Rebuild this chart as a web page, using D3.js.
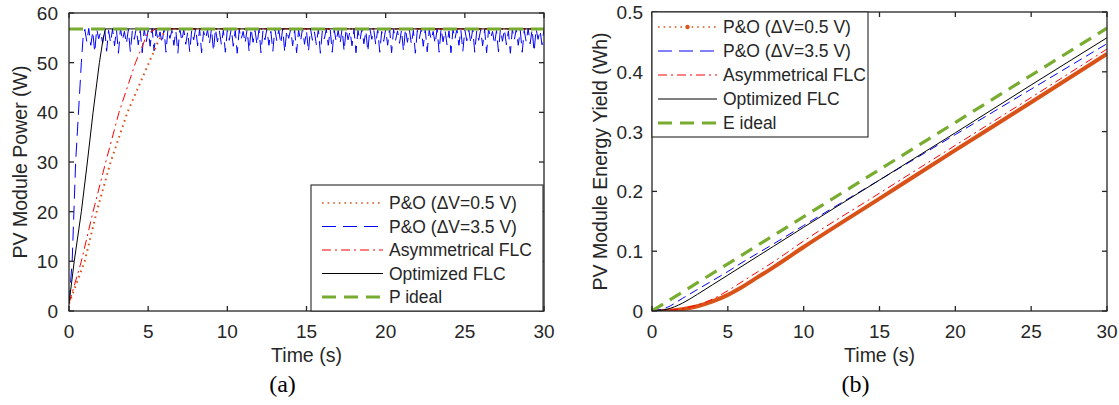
<!DOCTYPE html>
<html>
<head>
<meta charset="utf-8">
<script src="https://cdn.jsdelivr.net/npm/d3@7"></script>
<style>
  body { margin: 0; background: #fff; }
  text { font-family: Arial, "Liberation Sans", sans-serif; fill: #262626; }
</style>
</head>
<body>
<div id="chart"></div>
<script>
"use strict";

// ---- data ----
var xTicks = [0, 5, 10, 15, 20, 25, 30];
var powerTicks = [0, 10, 20, 30, 40, 50, 60];
var energyTicks = [0, 0.1, 0.2, 0.3, 0.4, 0.5];

var legendA = ["P&O (\u0394V=0.5 V)", "P&O (\u0394V=3.5 V)", "Asymmetrical FLC", "Optimized FLC", "P ideal"];
var legendB = ["P&O (\u0394V=0.5 V)", "P&O (\u0394V=3.5 V)", "Asymmetrical FLC", "Optimized FLC", "E ideal"];

// (a) power, W
var poSmallT = [0, 0.99, 1.75, 2.63, 3.69, 5.05, 5.68, 6.2, 30];
var poSmallP = [1.5, 10, 20, 30, 40, 50, 54.6, 56.8, 56.8];
var asymT = [0, 0.78, 1.52, 2.32, 3.16, 4.2, 4.96, 5.5, 30];
var asymP = [1.5, 10, 20, 30, 40, 50, 55.9, 56.8, 56.8];
var optT = [0, 0.33, 0.78, 1.16, 1.52, 1.92, 2.15, 2.3, 30];
var optP = [1.5, 10, 20, 30, 40, 50, 54.7, 56.8, 56.8];
var idealT = [0, 30];
var idealP = [56.8, 56.8];
// P&O 3.5 V: start-up, then the steady oscillation sampled every 0.125 s from t = 1
var poBigRampT = [0, 0.2, 0.42, 0.78, 0.9];
var poBigRampP = [1.5, 10, 30, 50, 55.5];
var poBigStart = 1.0, poBigStep = 0.125;
var poBigOsc = [
  56.7,54.2,56.9,53.5,56.3,52.1, 56.8,54.8,56.2,53.9,57.0,52.3,
  56.5,54.0,56.8,53.4,56.6,51.9, 56.9,54.5,56.3,53.8,56.7,52.2,
  56.4,54.7,57.0,53.6,56.5,52.0, 56.8,54.1,56.6,53.3,56.9,52.4,
  56.6,54.4,56.2,53.9,56.8,52.1, 56.7,54.9,56.5,53.5,56.4,51.9,
  56.9,54.3,56.7,53.7,56.2,52.2, 56.5,54.6,56.9,53.4,56.8,52.0,
  56.3,54.8,56.6,53.8,56.9,52.3, 56.8,54.2,56.4,53.6,56.6,52.1,
  56.7,54.5,56.9,53.3,56.5,51.9, 56.6,54.7,56.3,53.9,56.8,52.2,
  56.9,54.1,56.5,53.6,56.7,52.0, 56.4,54.6,56.8,53.5,56.3,52.3,
  56.8,54.4,56.6,53.8,56.9,52.1, 56.5,54.9,56.7,53.4,56.6,52.0,
  56.6,54.3,56.9,53.7,56.4,52.2, 56.9,54.5,56.2,53.6,56.8,51.9,
  56.4,54.8,56.7,53.5,56.6,52.1, 56.7,54.2,56.5,53.9,56.9,52.3,
  56.8,54.6,56.3,53.4,56.7,52.0, 56.5,54.4,56.9,53.8,56.4,52.2,
  56.9,54.7,56.6,53.6,56.8,52.1, 56.3,54.3,56.7,53.5,56.9,52.0,
  56.7,54.5,56.4,53.9,56.6,52.3, 56.8,54.1,56.6,53.7,56.5,51.9,
  56.5,54.8,56.9,53.3,56.7,52.2, 56.6,54.6,56.3,53.8,56.8,52.1,
  56.9,54.2,56.5,53.6,56.4,52.0, 56.7,54.7,56.8,53.5,56.6,52.3,
  56.6,54.4,56.7,53.9,56.9,52.1, 56.4,54.5,56.6,53.4,56.7,52.0,
  56.8,54.9,56.3,53.7,56.5,52.2, 56.9,54.3,56.7,53.6,56.4,51.9,
  56.7,54.6,56.8,53.5,56.6,52.1, 56.5,54.2,56.9,53.8,56.7,52.2,
  56.8,54.7,56.5,53.6,56.9
];

// (b) energy, Wh
var eT = [0, 1, 2, 3, 4, 5, 6, 7, 8, 10, 15, 20, 25, 30];
var ePoSmall = [0, 0.0005, 0.003, 0.008, 0.016, 0.027, 0.041, 0.057, 0.073, 0.107, 0.188, 0.269, 0.349, 0.430];
var eAsym = [0, 0.001, 0.004, 0.010, 0.020, 0.034, 0.050, 0.066, 0.082, 0.117, 0.197, 0.277, 0.357, 0.438];
var eOpt = [0, 0.003, 0.013, 0.028, 0.044, 0.060, 0.076, 0.092, 0.108, 0.140, 0.219, 0.298, 0.378, 0.457];
var ePoBig = [0, 0.006, 0.021, 0.036, 0.051, 0.066, 0.082, 0.097, 0.112, 0.143, 0.219, 0.295, 0.371, 0.447];
var eIdealT = [0, 30];
var eIdeal = [0, 0.473];

// ---- styles ----
var styles = [
  { color: "#D95319", width: 2, dash: "1.6,4" },
  { color: "#0000FF", width: 1, dash: "14,7" },
  { color: "#FF0000", width: 1, dash: "9,4,2,4" },
  { color: "#000000", width: 1, dash: null },
  { color: "#77AC30", width: 3, dash: "14,8" }
];

var W = 1119, H = 405;
var svg = d3.select("#chart").append("svg")
  .attr("width", W).attr("height", H)
  .style("display", "block");
svg.append("rect").attr("width", W).attr("height", H).attr("fill", "#fff");

function zip(t, v) { return t.map(function(d, i) { return [d, v[i]]; }); }

function makeAxes(box, yDomain, yTicks, yFmt, yTitle, titleX, label) {
  var x = d3.scaleLinear().domain([0, 30]).range([box.left, box.right]);
  var y = d3.scaleLinear().domain(yDomain).range([box.bottom, box.top]);
  var g = svg.append("g");

  // tick labels
  g.selectAll(".xl").data(xTicks).enter().append("text")
    .attr("x", function(d) { return x(d); }).attr("y", box.bottom + 27)
    .attr("text-anchor", "middle").style("font-size", "19px")
    .text(function(d) { return d; });
  g.selectAll(".yl").data(yTicks).enter().append("text")
    .attr("x", box.left - box.labGap).attr("y", function(d) { return y(d) + 7; })
    .attr("text-anchor", "end").style("font-size", "19px")
    .text(yFmt);

  g.append("text").attr("x", (box.left + box.right) / 2).attr("y", box.bottom + 51)
    .attr("text-anchor", "middle").style("font-size", "19.5px").text("Time (s)");
  g.append("text")
    .attr("transform", "translate(" + titleX + "," + ((box.top + box.bottom) / 2) + ") rotate(-90)")
    .attr("text-anchor", "middle").style("font-size", "19.5px").text(yTitle);
  g.append("text").attr("x", (box.left + box.right) / 2 - 24).attr("y", 392)
    .attr("text-anchor", "middle")
    .style("font-family", "'Times New Roman', 'Liberation Serif', serif")
    .style("font-size", "24px").style("fill", "#000").text(label);

  var clipId = "clip" + label.replace(/\W/g, "");
  svg.append("clipPath").attr("id", clipId).append("rect")
    .attr("x", box.left).attr("y", box.top)
    .attr("width", box.right - box.left).attr("height", box.bottom - box.top);
  var plot = svg.append("g").attr("clip-path", "url(#" + clipId + ")");
  return { x: x, y: y, plot: plot, box: box };
}

function drawFrame(ax, yTicks) {
  var b = ax.box, g = svg.append("g").attr("stroke", "#262626").attr("stroke-width", 1.3);
  g.append("rect").attr("x", b.left).attr("y", b.top)
    .attr("width", b.right - b.left).attr("height", b.bottom - b.top).attr("fill", "none");
  xTicks.forEach(function(t) {
    g.append("line").attr("x1", ax.x(t)).attr("x2", ax.x(t)).attr("y1", b.bottom).attr("y2", b.bottom - 5);
    g.append("line").attr("x1", ax.x(t)).attr("x2", ax.x(t)).attr("y1", b.top).attr("y2", b.top + 5);
  });
  yTicks.forEach(function(t) {
    g.append("line").attr("x1", b.left).attr("x2", b.left + 5).attr("y1", ax.y(t)).attr("y2", ax.y(t));
    g.append("line").attr("x1", b.right).attr("x2", b.right - 5).attr("y1", ax.y(t)).attr("y2", ax.y(t));
  });
}

function drawLine(ax, pts, st, widthOverride, dashOverride, curve) {
  var line = d3.line().x(function(d) { return ax.x(d[0]); }).y(function(d) { return ax.y(d[1]); })
    .curve(curve || d3.curveLinear);
  var dash = dashOverride !== undefined ? dashOverride : st.dash;
  ax.plot.append("path").attr("d", line(pts)).attr("fill", "none")
    .attr("stroke", st.color).attr("stroke-width", widthOverride || st.width)
    .attr("stroke-dasharray", dash)
    .attr("stroke-linejoin", "round");
}

function drawLegend(lb, names, sx0, sx1, tx, y0, dy, markerFirst) {
  var g = svg.append("g");
  g.append("rect").attr("x", lb.x).attr("y", lb.y).attr("width", lb.w).attr("height", lb.h)
    .attr("fill", "#fff").attr("stroke", "#262626").attr("stroke-width", 1.1);
  names.forEach(function(n, i) {
    var yy = y0 + i * dy, st = styles[i];
    g.append("line").attr("x1", sx0).attr("x2", sx1).attr("y1", yy).attr("y2", yy)
      .attr("stroke", st.color).attr("stroke-width", i === 0 ? 1.5 : st.width)
      .attr("stroke-dasharray", st.dash);
    if (i === 0 && markerFirst) {
      g.append("circle").attr("cx", (sx0 + sx1) / 2).attr("cy", yy).attr("r", 2.2).attr("fill", st.color);
    }
    g.append("text").attr("x", tx).attr("y", yy + 6.3).style("font-size", "17.5px").text(n);
  });
}

// ---------- (a) ----------
var axA = makeAxes({ left: 69, right: 544, top: 13, bottom: 311, labGap: 11 },
  [0, 60], powerTicks, function(d) { return d; }, "PV Module Power (W)", 27, "(a)");

var poBigPts = zip(poBigRampT, poBigRampP).concat(poBigOsc.map(function(v, i) {
  return [poBigStart + i * poBigStep, v];
}));
drawLine(axA, poBigPts, styles[1]);
drawLine(axA, zip(poSmallT, poSmallP), styles[0]);
drawLine(axA, zip(asymT, asymP), styles[2]);
drawLine(axA, zip(optT, optP), styles[3]);
drawLine(axA, zip(idealT, idealP), styles[4]);
drawFrame(axA, powerTicks);
drawLegend({ x: 311, y: 185, w: 232, h: 126 }, legendA, 322, 383, 389, 203, 23.5, false);

// ---------- (b) ----------
var axB = makeAxes({ left: 652, right: 1107, top: 12, bottom: 311, labGap: 9 },
  [0, 0.5], energyTicks, function(d) { return d === 0 ? "0" : d3.format(".1f")(d); },
  "PV Module Energy Yield (Wh)", 607, "(b)");

drawLine(axB, zip(eT, ePoSmall), styles[0], 4, null, d3.curveMonotoneX);
drawLine(axB, zip(eT, eAsym), styles[2], null, "8,4,2,4", d3.curveMonotoneX);
drawLine(axB, zip(eT, ePoBig), styles[1], null, "9,5", d3.curveMonotoneX);
drawLine(axB, zip(eT, eOpt), styles[3], null, null, d3.curveMonotoneX);
drawLine(axB, zip(eIdealT, eIdeal), styles[4], 3.2, "13,8");
drawFrame(axB, energyTicks);
drawLegend({ x: 652, y: 12, w: 216, h: 125 }, legendB, 658, 717, 723, 27, 24, true);
</script>
</body>
</html>
